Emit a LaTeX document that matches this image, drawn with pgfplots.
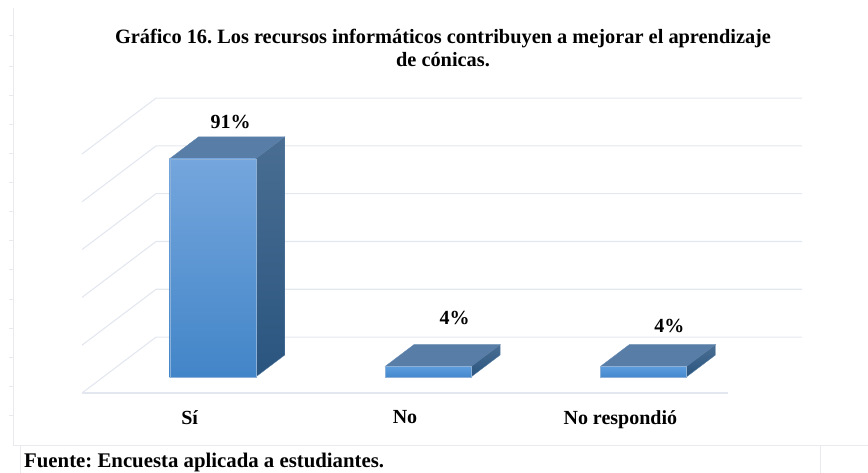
\documentclass[border=0pt]{standalone}
\usepackage{pgfplots}
\pgfplotsset{compat=1.18}
\usepackage{fontspec}
\setmainfont{Liberation Serif}
\definecolor{gridc}{HTML}{E3E7EF}
\definecolor{framec}{HTML}{E8EAEE}
\definecolor{frontT}{HTML}{75A6DD}
\definecolor{frontB}{HTML}{4285C8}
\definecolor{smallT}{HTML}{5C9DDF}
\definecolor{smallB}{HTML}{4688CD}
\definecolor{topc}{HTML}{587DA6}
\definecolor{sideT}{HTML}{4A6E93}
\definecolor{sideB}{HTML}{2A557F}
\definecolor{edgec}{HTML}{8DB0D6}
\pgfplotsset{
  gridl/.style={color=gridc,line width=1.1pt,no markers,forget plot},
  shift3d/.style={xshift=23pt,yshift=16pt},
  topf/.style={shift3d,fill=topc,draw=topc!80!edgec,line width=0.4pt,no markers,forget plot},
  sidef/.style={shift3d,draw=sideT!70!edgec,line width=0.3pt,top color=sideT,bottom color=sideB,no markers,forget plot},
}
\begin{document}
\frenchspacing
\begin{tikzpicture}[x=1pt,y=1pt]
\useasboundingbox (0,0) rectangle (868,-473);
% page frame remnants
\draw[framec,line width=0.9pt] (13.5,-8) -- (13.5,-445) -- (868,-445);
\draw[framec,line width=0.9pt] (20,-445) -- (20,-473);
\draw[framec,line width=0.9pt] (820,-445) -- (820,-473);
\foreach \y in {35,66,95,124,153,182,211,240,269,299,328,357,386,415}
  \draw[framec,line width=0.7pt] (9,-\y) -- (13.5,-\y);
\begin{axis}[
  at={(82pt,-393pt)},anchor=south west,
  scale only axis,width=646pt,height=239pt,
  xmin=-0.5,xmax=2.5,ymin=0,ymax=100,
  clip=false,
  axis y line=none,
  axis x line=bottom,
  x axis line style={draw=gridc,line width=1.1pt,-},
  xtick={0,1,2},
  xticklabels={Sí,No,No respondió},
  xtick style={draw=none},
  xticklabel style={font=\fontsize{20}{24}\selectfont\bfseries,text=black},
  x tick label style={yshift=-12pt},
]
% wall lines: left diagonal and back horizontal
\addplot[gridl] coordinates {(-0.5,0)(-0.156,23.4)(2.844,23.4)};
\addplot[gridl] coordinates {(-0.5,20)(-0.156,43.4)(2.844,43.4)};
\addplot[gridl] coordinates {(-0.5,40)(-0.156,63.4)(2.844,63.4)};
\addplot[gridl] coordinates {(-0.5,60)(-0.156,83.4)(2.844,83.4)};
\addplot[gridl] coordinates {(-0.5,80)(-0.156,103.4)(2.844,103.4)};
\addplot[gridl] coordinates {(-0.5,100)(-0.156,123.4)(2.844,123.4)};
% top faces
\addplot[topf] coordinates {(-0.2,91.3)(0.2,91.3)(0.335,100.5)(-0.065,100.5)(-0.2,91.3)};
\addplot[topf] coordinates {(0.8,4.35)(1.2,4.35)(1.335,13.55)(0.935,13.55)(0.8,4.35)};
\addplot[topf] coordinates {(1.8,4.35)(2.2,4.35)(2.335,13.55)(1.935,13.55)(1.8,4.35)};
% side faces
\addplot[sidef] coordinates {(0.2,0)(0.335,9.2)(0.335,100.5)(0.2,91.3)(0.2,0)};
\addplot[sidef] coordinates {(1.2,0)(1.335,9.2)(1.335,13.55)(1.2,4.35)(1.2,0)};
\addplot[sidef] coordinates {(2.2,0)(2.335,9.2)(2.335,13.55)(2.2,4.35)(2.2,0)};
% front faces
\addplot[ybar,bar width=86pt,bar shift=0pt,shift3d,draw=edgec,line width=0.3pt,
  top color=frontT,bottom color=frontB,no markers]
  coordinates {(0,91.3)};
\addplot[ybar,bar width=86pt,bar shift=0pt,shift3d,draw=edgec,line width=0.3pt,
  top color=smallT,bottom color=smallB,no markers]
  coordinates {(1,4.35)(2,4.35)};
% data labels
\node[font=\fontsize{20}{24}\selectfont\bfseries,text=black] at (axis cs:0.19,113.3) {91\%};
\node[font=\fontsize{20}{24}\selectfont\bfseries,text=black] at (axis cs:1.23,31.5) {4\%};
\node[font=\fontsize{20}{24}\selectfont\bfseries,text=black] at (axis cs:2.228,28) {4\%};
\end{axis}
\node[font=\fontsize{20.35}{23}\selectfont\bfseries,text=black,align=center,inner sep=0pt] at (443,-47.5)
  {Gráfico 16. Los recursos informáticos contribuyen a mejorar el aprendizaje\\de cónicas.};
\node[font=\fontsize{20.8}{24}\selectfont\bfseries,text=black,anchor=west,inner sep=0pt] at (24,-462.5)
  {Fuente: Encuesta aplicada a estudiantes.};
\end{tikzpicture}
\end{document}
